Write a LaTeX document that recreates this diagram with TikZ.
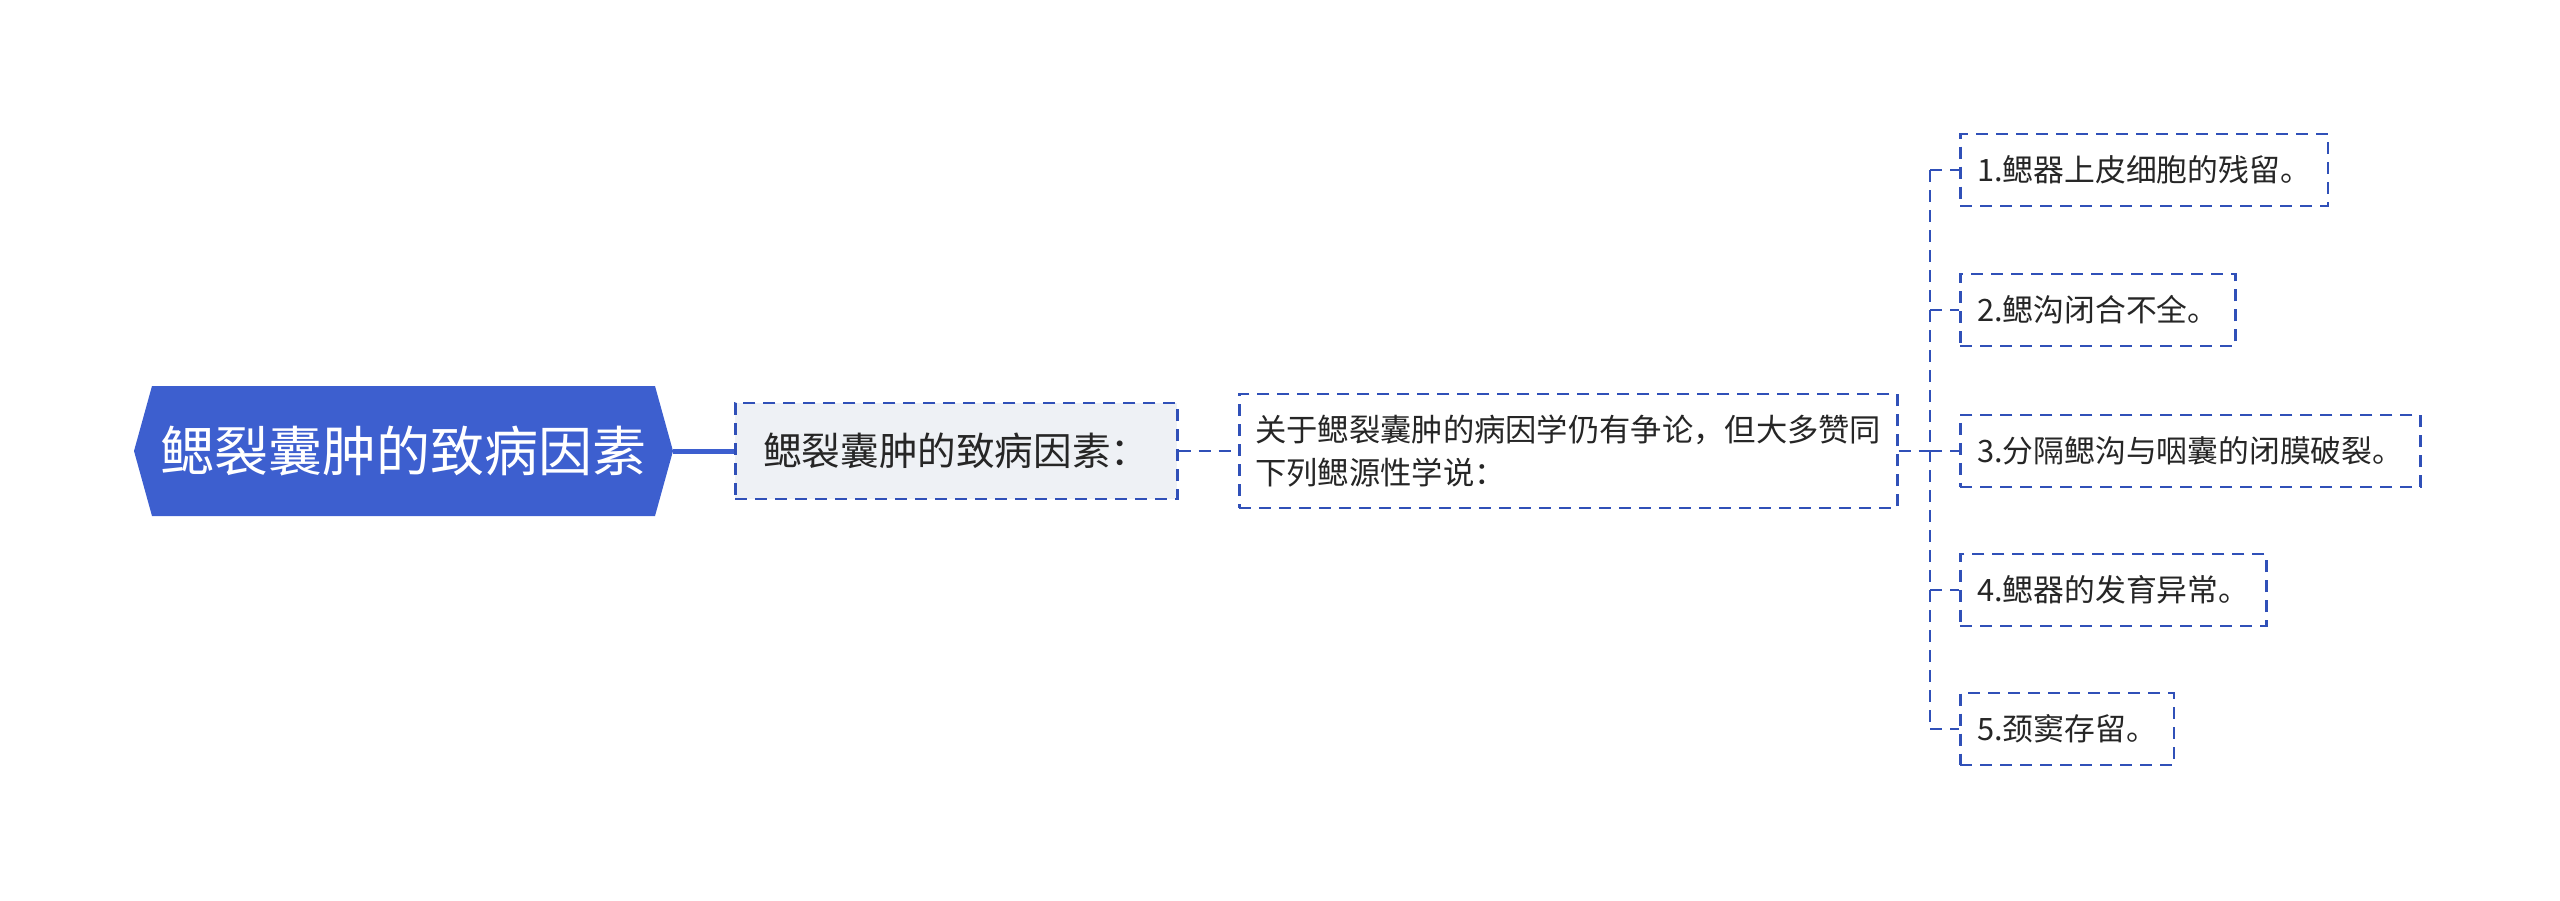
\documentclass[tikz,border=0pt]{standalone}
\usepackage{fontspec}
\setmainfont{Noto Sans CJK SC}
\definecolor{rootblue}{HTML}{3D5FCF}
\definecolor{lineblue}{HTML}{3050B8}
\definecolor{txt}{HTML}{262626}
\definecolor{lightbg}{HTML}{EEF1F5}
\tikzset{
  dashbox/.style={draw=lineblue, line width=2.5pt, dash pattern=on 12pt off 8pt, rectangle, anchor=west, text=txt, inner ysep=0pt},
  conn/.style={draw=lineblue, line width=2.5pt, dash pattern=on 12pt off 8pt},
  childbox/.style={dashbox, fill=white, minimum height=72pt, inner xsep=17pt, font=\fontsize{30.8}{40}\selectfont},
}
\begin{document}
\begin{tikzpicture}[x=1pt,y=-1pt]
\useasboundingbox (0,0) rectangle (2560,900);
% root hexagon
\fill[rootblue] (134,451) -- (152,386) -- (655,386) -- (673,451) -- (655,516) -- (152,516) -- cycle;
\node[text=white, font=\fontsize{54}{60}\selectfont, inner sep=0pt] (root) at (403.5,451) {鳃裂囊肿的致病因素};
\coordinate (rootE) at (673,451);
% level 2
\node[dashbox, fill=lightbg, minimum height=96pt, inner xsep=28pt, font=\fontsize{38.6}{46}\selectfont] (n2) at (734,451) {鳃裂囊肿的致病因素：};
\draw[rootblue, line width=5pt] (rootE) -- (n2.west);
% level 3
\node[dashbox, fill=white, minimum height=114pt, inner xsep=16pt, align=left, font=\fontsize{31.3}{43}\selectfont] (n3) at (1238,451) {关于鳃裂囊肿的病因学仍有争论，但大多赞同\\下列鳃源性学说：};
\draw[conn] (n2.east) -- (n3.west);
% children
\node[childbox] (c1) at (1959,170) {1.鳃器上皮细胞的残留。};
\node[childbox] (c2) at (1959,310) {2.鳃沟闭合不全。};
\node[childbox] (c3) at (1959,451) {3.分隔鳃沟与咽囊的闭膜破裂。};
\node[childbox] (c4) at (1959,590) {4.鳃器的发育异常。};
\node[childbox] (c5) at (1959,729) {5.颈窦存留。};
\coordinate (trunk) at (1930,451);
\draw[conn] (n3.east) -- (trunk);
\draw[conn] (trunk |- c1.west) -- (trunk |- c5.west);
\foreach \c in {c1,c2,c3,c4,c5} {
  \draw[conn] (trunk |- \c.west) -- (\c.west);
}
\end{tikzpicture}
\end{document}
